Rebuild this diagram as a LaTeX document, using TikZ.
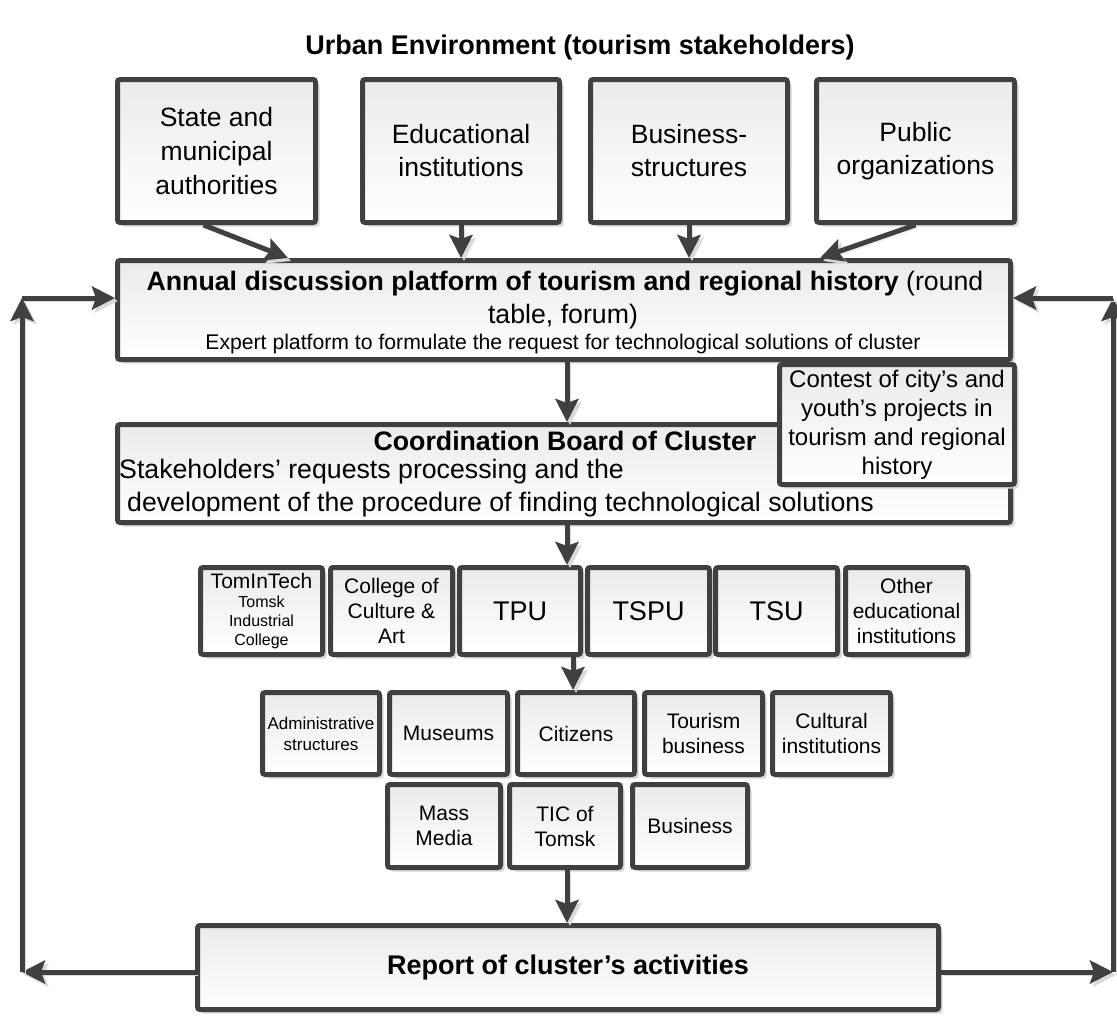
\documentclass[tikz,border=0pt]{standalone}
\usepackage{fontspec}
\setmainfont{Liberation Sans}
\usetikzlibrary{arrows.meta,shadows,calc}
\definecolor{edge}{HTML}{404040}
\definecolor{shadowgray}{HTML}{D6D6D6}
\newcommand{\fs}[2]{\fontsize{#1}{#2}\selectfont}
\tikzset{
  box/.style={draw=edge, line width=5pt, rounded corners=2.5pt, top color=black!8, bottom color=white,
    drop shadow={shadow xshift=4pt, shadow yshift=-4pt, fill=shadowgray, opacity=1},
    align=center, inner sep=0pt, text=black},
  arr/.style={draw=edge, line width=5pt, -{Stealth[length=23pt,width=23pt,inset=4pt]},
    preaction={draw=black!15, transform canvas={shift={(3pt,-3pt)}}}},
  lbl/.style={inner sep=0pt, text=black},
}
\begin{document}
\begin{tikzpicture}[x=1pt,y=-1pt]
\useasboundingbox[fill=white] (0,0) rectangle (1117,1018);

\node[lbl, font=\fs{27}{32}\bfseries] (title) at (580,48) {Urban Environment (tourism stakeholders)};

% top boxes
\node[box, minimum width=198pt, minimum height=143pt, font=\fs{26.5}{34}] (b1) at (216.5,151) {State and\\municipal\\authorities};
\node[box, minimum width=197pt, minimum height=143pt, font=\fs{26.5}{33}] (b2) at (461,151) {Educational\\institutions};
\node[box, minimum width=197pt, minimum height=143pt, font=\fs{26.5}{33}] (b3) at (689,151) {Business-\\structures};
\node[box, minimum width=198pt, minimum height=143pt, font=\fs{26.5}{33}] (b4) at (915.5,151) {Public\\organizations};

% annual platform
\node[box, minimum width=893pt, minimum height=99pt] (ann) at (564,310) {};
\node[lbl, font=\fs{26.7}{34}] (ann1) at (565,284) {\textbf{Annual discussion platform of tourism and regional history} (round};
\node[lbl, font=\fs{26.7}{34}] (ann2) at (563,317) {table, forum)};
\node[lbl, font=\fs{21.2}{26}] (ann3) at (563,344) {Expert platform to formulate the request for technological solutions of cluster};

% coordination board
\node[box, minimum width=893pt, minimum height=98pt] (coord) at (564,473.5) {};
\node[lbl, font=\fs{26.7}{34}\bfseries] (c1) at (565,441) {Coordination Board of Cluster};
\node[lbl, font=\fs{26.7}{34}, anchor=west] (c2) at (119,472) {Stakeholders’ requests processing and the};
\node[lbl, font=\fs{26.7}{34}, anchor=west] (c3) at (127,505) {development of the procedure of finding technological solutions};

% contest
\node[box, minimum width=235pt, minimum height=120pt, font=\fs{24}{29}] (contest) at (897,424.5) {Contest of city’s and\\youth’s projects in\\tourism and regional\\history};

% row 1
\node[box, minimum width=122pt, minimum height=87pt, font=\fs{16}{19}] (t1) at (261.5,611) {{\fs{21}{24}TomInTech}\\Tomsk\\Industrial\\College};
\node[box, minimum width=122pt, minimum height=87pt, font=\fs{21}{25}] (t2) at (391.5,611) {College of\\Culture \&\\Art};
\node[box, minimum width=121pt, minimum height=87pt, font=\fs{27}{32}] (t3) at (520,611) {TPU};
\node[box, minimum width=122pt, minimum height=87pt, font=\fs{27}{32}] (t4) at (648.5,611) {TSPU};
\node[box, minimum width=122pt, minimum height=87pt, font=\fs{27}{32}] (t5) at (776.5,611) {TSU};
\node[box, minimum width=122pt, minimum height=87pt, font=\fs{21}{25}] (t6) at (906.5,611) {Other\\educational\\institutions};

% row 2
\node[box, minimum width=117pt, minimum height=82pt, font=\fs{17}{21}] (s1) at (321,733.5) {Administrative\\structures};
\node[box, minimum width=118pt, minimum height=82pt, font=\fs{21}{25}] (s2) at (448.5,733.5) {Museums};
\node[box, minimum width=117pt, minimum height=82pt, font=\fs{21}{25}] (s3) at (576,733.5) {Citizens};
\node[box, minimum width=118pt, minimum height=82pt, font=\fs{21}{25}] (s4) at (703.5,733.5) {Tourism\\business};
\node[box, minimum width=118pt, minimum height=82pt, font=\fs{21}{25}] (s5) at (831.5,733.5) {Cultural\\institutions};

% row 3
\node[box, minimum width=113pt, minimum height=83pt, font=\fs{21}{25}] (m1) at (444,826) {Mass\\Media};
\node[box, minimum width=111pt, minimum height=83pt, font=\fs{21}{25}] (m2) at (565,826) {TIC of\\Tomsk};
\node[box, minimum width=115pt, minimum height=83pt, font=\fs{21}{25}] (m3) at (690,826) {Business};

% report
\node[box, minimum width=741pt, minimum height=84pt, font=\fs{27}{32}\bfseries] (rep) at (568,967.5) {Report of cluster’s activities};

% helper coordinates
\coordinate (xa) at (567,0);
\coordinate (xb) at (573,0);
\coordinate (lb) at (22,972);
\coordinate (lt) at (22,298);
\coordinate (rb) at (1113,972);
\coordinate (rt) at (1113,298);

% arrows top
\draw[arr] ($(b1.south)+(-13,0)$) -- ($(ann.north west)+(173,0)$);
\draw[arr] (b2.south) -- (b2.south |- ann.north);
\draw[arr] (b3.south) -- (b3.south |- ann.north);
\draw[arr] (b4.south) -- ($(ann.north west)+(705,0)$);

% vertical chain
\draw[arr] (ann.south -| xa) -- (coord.north -| xa);
\draw[arr] (coord.south -| xa) -- (t3.north -| xa);
\draw[arr] (t3.south -| xb) -- (s3.north -| xb);
\draw[arr] (m2.south -| xa) -- (rep.north -| xa);

% feedback loops
\draw[arr] (rep.west |- lb) -- (lb);
\draw[arr] (lb) -- (lt);
\draw[arr] (lt) -- (ann.west |- lt);
\draw[arr] (rep.east |- rb) -- (rb);
\draw[arr] (rb) -- (rt);
\draw[arr] (rt) -- (ann.east |- rt);
\end{tikzpicture}
\end{document}
